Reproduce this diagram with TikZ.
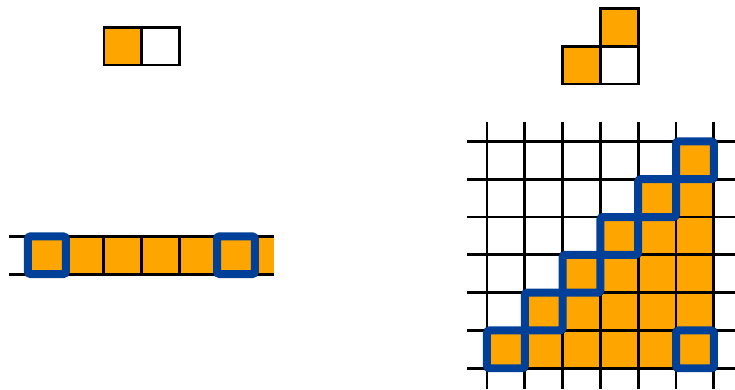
\documentclass[tikz,border=0pt]{standalone}
\definecolor{cellOrange}{RGB}{255,165,0}
\definecolor{markBlue}{RGB}{0,64,153}
\usetikzlibrary{positioning,calc}
\begin{document}
\begin{tikzpicture}[
  gridline/.style={line width=2.1pt},
  hitbox/.style={draw=markBlue, line width=6pt, rounded corners=2pt}
]
  \useasboundingbox (0,0) rectangle (19.44,10.29);
  % pieces
  \coordinate (domino) at (2.75,8.57);
  \fill[cellOrange] (domino) rectangle ++(1,1);
  \draw[gridline] (domino) rectangle ++(2,1) ($(domino)+(1,0)$) -- ++(0,1);
  \coordinate (corner) at (14.88,8.07);
  \fill[cellOrange] (corner) rectangle ++(1,1) ($(corner)+(1,1)$) rectangle ++(1,1);
  \draw[gridline] (corner) rectangle ++(2,1) ($(corner)+(1,1)$) rectangle ++(1,1)
        ($(corner)+(1,0)$) -- ++(0,1);
  % strip
  \coordinate (strip) at (0.74,3.04);
  \fill[cellOrange] (strip) rectangle ++(6.5,1);
  \draw[gridline] ($(strip)+(-0.5,0)$) -- ++(7,0) ($(strip)+(-0.5,1)$) -- ++(7,0);
  \foreach \i in {1,...,6}
    \draw[gridline] ($(strip)+(\i,0)$) -- ++(0,1);
  \foreach \i in {0,5}
    \draw[hitbox] ($(strip)+(\i,0)$) rectangle ++(1,1);
  % board
  \coordinate (board) at (12.88,0.55);
  \foreach \r in {0,...,5}
    \fill[cellOrange] ($(board)+(\r,\r)$) rectangle ($(board)+(6,\r+1)$);
  \foreach \i in {0,...,6} {
    \draw[gridline] ($(board)+(\i,-0.55)$) -- ++(0,7.05);
    \draw[gridline] ($(board)+(-0.53,\i)$) -- ++(7.1,0);
  }
  \foreach \r in {0,...,5}
    \draw[hitbox] ($(board)+(\r,\r)$) rectangle ++(1,1);
  \draw[hitbox] ($(board)+(5,0)$) rectangle ++(1,1);
\end{tikzpicture}
\end{document}
